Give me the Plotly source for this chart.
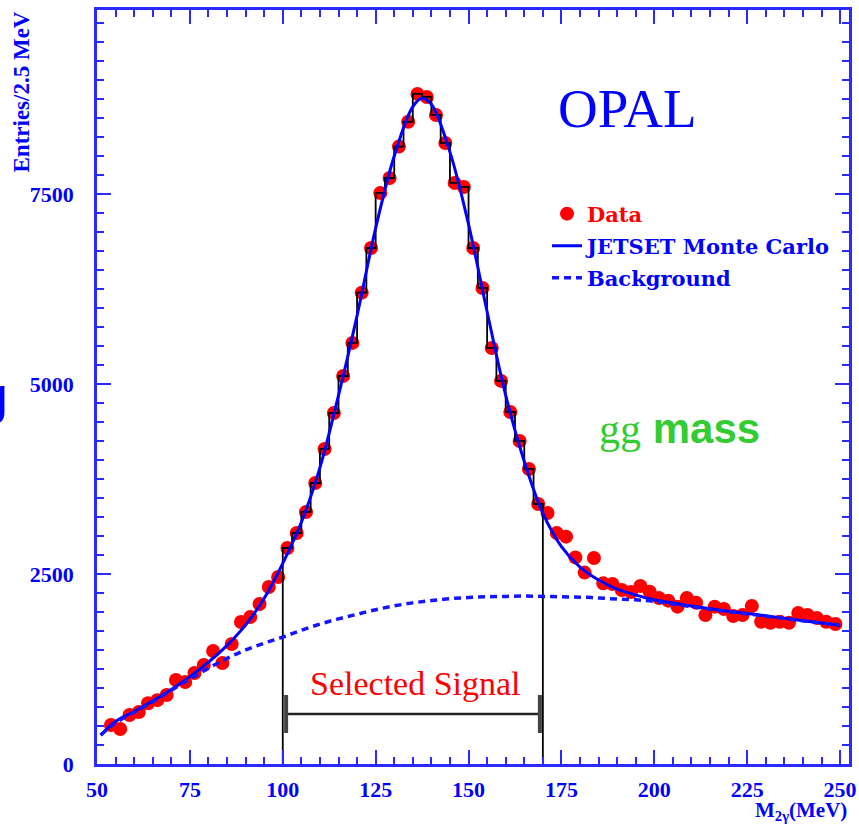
import plotly.graph_objects as go

# ---------------- data ----------------
bin_centers = [53.75 + 2.5 * i for i in range(79)]
data_values = [513, 460, 645, 684, 800, 840, 908, 1105, 1079, 1197,
               1303, 1487, 1329, 1579, 1868, 1934, 2105, 2329, 2461, 2842,
               3039, 3316, 3697, 4145, 4618, 5105, 5540, 6201, 6789, 7513,
               7710, 8123, 8450, 8816, 8776, 8539, 8171, 7645, 7592, 6789,
               6263, 5474, 5040, 4632, 4250, 3882, 3421, 3303, 3039, 2991,
               2718, 2518, 2711, 2377, 2368, 2289, 2262, 2342, 2267, 2184,
               2149, 2070, 2184, 2122, 1961, 2070, 2039, 1947, 1961, 2079,
               1872, 1859, 1872, 1859, 1986, 1961, 1921, 1872, 1842]

mc_x = [51, 55, 60, 65, 70, 75, 80, 85, 90, 95, 100, 105, 110, 115, 120, 125,
        130, 135, 137.5, 140, 145, 150, 155, 160, 165, 170, 175, 180, 185, 190,
        195, 200, 210, 220, 230, 240, 250]
mc_y = [380, 560, 690, 830, 980, 1150, 1340, 1560, 1830, 2180, 2640, 3180,
        3900, 4850, 5900, 7050, 8000, 8650, 8760, 8680, 8050, 7100, 5950,
        4850, 3980, 3300, 2860, 2590, 2420, 2300, 2225, 2160, 2080, 2010,
        1950, 1885, 1825]

bg_x = [51, 55, 60, 65, 70, 75, 80, 85, 90, 95, 100, 105, 110, 115, 120, 125,
        130, 135, 140, 145, 150, 155, 160, 165, 170, 175, 180, 185, 190, 195,
        200, 210, 220, 230, 240, 250]
bg_y = [380, 540, 680, 820, 970, 1120, 1260, 1390, 1500, 1590, 1670, 1760,
        1840, 1910, 1970, 2030, 2080, 2120, 2150, 2175, 2190, 2200, 2205,
        2210, 2205, 2200, 2195, 2185, 2170, 2160, 2140, 2070, 2005, 1945,
        1885, 1825]

signal_window = [100, 170]
bin_width = 2.5

x_ticks = [50, 75, 100, 125, 150, 175, 200, 225, 250]
y_ticks = [0, 2500, 5000, 7500]

# ---------------- figure ----------------
BLUE = "#0000ff"
AXBLUE = "#2a2aff"
SERIF = "Liberation Serif"

fig = go.Figure()

fig.add_trace(go.Scatter(
    x=bin_centers, y=data_values, mode="markers", name="Data",
    marker=dict(color="#ff0000", size=14), legend="legend"))

# step histogram inside the signal window
sx, sy = [signal_window[0]], [0]
for c, v in zip(bin_centers, data_values):
    if signal_window[0] < c < signal_window[1]:
        sx.append(c - bin_width / 2)
        sy.append(v)
sx.append(signal_window[1]); sy.append(sy[-1])
sx.append(signal_window[1]); sy.append(0)
fig.add_trace(go.Scatter(x=sx, y=sy, mode="lines", line_shape="hv",
                         line=dict(color="black", width=1.8), showlegend=False))

fig.add_trace(go.Scatter(
    x=mc_x, y=mc_y, mode="lines", name="JETSET Monte Carlo",
    line=dict(color=BLUE, width=3, shape="spline"), legend="legend2"))
fig.add_trace(go.Scatter(
    x=bg_x, y=bg_y, mode="lines", name="Background",
    line=dict(color="#1515ff", width=3.5, dash="7px,5px", shape="spline"),
    legend="legend3"))

axis_common = dict(showline=True, linecolor=AXBLUE, linewidth=2.5, mirror="ticks",
                   ticks="inside", tickcolor=AXBLUE, tickwidth=1.5, ticklen=14,
                   showgrid=False, zeroline=False, automargin=False,
                   tickfont=dict(family=SERIF, size=22, color=BLUE, weight="bold"))

fig.update_xaxes(range=[50, 252.4], tickvals=x_ticks,
                 minor=dict(dtick=5, ticklen=7, ticks="inside", tickcolor=AXBLUE, tickwidth=1.5),
                 ticklabelstandoff=4, **axis_common)
fig.update_yaxes(range=[0, 9920], tickvals=y_ticks,
                 minor=dict(dtick=250, ticklen=7, ticks="inside", tickcolor=AXBLUE, tickwidth=1.5),
                 ticklabelstandoff=16, **axis_common)

# selected signal bar
yb = 658
fig.add_shape(type="line", x0=100.9, x1=169.2, y0=yb, y1=yb,
              line=dict(color="#222222", width=2.5))
for xe in (100.9, 169.2):
    fig.add_shape(type="line", x0=xe, x1=xe, y0=yb - 250, y1=yb + 250,
                  line=dict(color="#444444", width=4))

ann = [
    dict(x=135.6, y=1060, text="Selected Signal", showarrow=False,
         font=dict(family=SERIF, size=34, color="#ff0000")),
    dict(x=192.9, y=8620, text="OPAL", showarrow=False,
         font=dict(family=SERIF, size=55, color=BLUE)),
    dict(x=206.9, y=4420, showarrow=False,
         text="<span style='font-family:Liberation Serif;font-weight:normal'>gg</span> <b>mass</b>",
         font=dict(family="Liberation Sans", size=42, color="#33cc33")),
]
for a in ann:
    fig.add_annotation(xref="x", yref="y", **a)

fig.add_annotation(xref="paper", yref="paper", x=(10 - 97) / 752, y=(764 - 395) / 754,
                   xanchor="right", yanchor="middle", showarrow=False, text="g",
                   font=dict(family="Liberation Sans", size=52, color=BLUE))
fig.add_annotation(xref="paper", yref="paper", x=(21 - 97) / 752, y=1.0,
                   xanchor="center", yanchor="top", textangle=-90, showarrow=False,
                   text="<b>Entries/2.5 MeV</b>",
                   font=dict(family=SERIF, size=23, color=BLUE))
fig.add_annotation(xref="paper", yref="paper", x=1.0, y=(764 - 826) / 754,
                   xanchor="right", yanchor="bottom", showarrow=False,
                   text="<b>M<sub>2γ</sub>(MeV)</b>",
                   font=dict(family=SERIF, size=21, color=BLUE))

def leg(py, color):
    return dict(x=(547 - 97) / 752, y=(764 - py) / 754, xanchor="left", yanchor="middle",
                bgcolor="rgba(0,0,0,0)", borderwidth=0,
                font=dict(family="DejaVu Serif", size=21, color=color, weight="bold"))

fig.update_layout(
    width=859, height=827,
    margin=dict(l=97, r=10, t=10, b=63),
    plot_bgcolor="white", paper_bgcolor="white",
    legend=leg(214, "#ff0000"),
    legend2=leg(246, BLUE),
    legend3=leg(278, BLUE),
)

fig.write_html("out.html")
